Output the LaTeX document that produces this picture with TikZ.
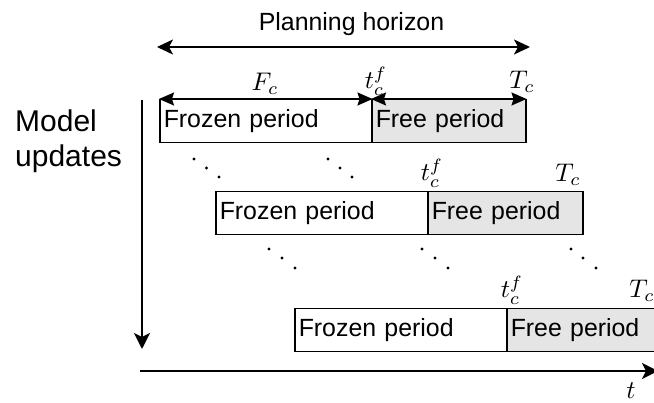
\documentclass[tikz,border=0pt]{standalone}
\usepackage{graphicx}
\usepackage{fontspec}
\setmainfont{Liberation Sans}
\usetikzlibrary{arrows.meta}

\newcommand{\txtsize}{\fontsize{24.88}{29}\selectfont}
\newcommand{\bigsize}{\fontsize{30}{35}\selectfont}
\newcommand{\mlbl}[1]{\scalebox{2.55}{\normalsize$#1$}}

\begin{document}
\begin{tikzpicture}[x=1pt,y=-1pt,
  every node/.style={font=\txtsize},
  period/.style={draw, line width=1.5pt, anchor=north west,
    minimum height=43pt, inner xsep=4pt, inner ysep=0pt,
    align=left, text width=#1-8pt},
  frozen/.style={period=#1, fill=white},
  free/.style={period=#1, fill=gray!20},
  span/.style={line width=1.5pt, {Stealth[length=15pt,width=13pt,inset=2pt]}-{Stealth[length=15pt,width=13pt,inset=2pt]}},
  horizon/.style={line width=1.7pt, {Stealth[length=16pt,width=15pt,inset=4pt]}-{Stealth[length=16pt,width=15pt,inset=4pt]}},
  axis/.style={line width=1.9pt, -{Stealth[length=16pt,width=16pt,inset=4pt]}},
  pt/.style={anchor=base, inner sep=0pt},
  mathlbl/.style={anchor=base, inner sep=0pt},
  dotmark/.style={fill=black}
]
\useasboundingbox (0,0) rectangle (654,403);

% planning horizon
\node[pt] (ph) at (351.5,31) {Planning horizon};
\coordinate (phl) at (157,47);
\coordinate (phr) at (530,47);
\draw[horizon] (phl) -- (phr);

% model update axis
\node[anchor=base west, inner sep=0pt, font=\bigsize] (m1) at (15,132) {Model};
\node[anchor=base west, inner sep=0pt, font=\bigsize] (m2) at (15,167) {updates};
\coordinate (vt) at (142,100);
\coordinate (vb) at (142,349);
\draw[axis] (vt) -- (vb);

% time axis
\coordinate (hl) at (140,371);
\coordinate (hr) at (658,371);
\draw[axis] (hl) -- (hr);
\node[mathlbl] (t) at (631,399) {\mlbl{t}};

% first update
\node[frozen=212pt] (fz1) at (159,99) {Frozen period};
\node[free=154pt] (fr1) at (371,99) {Free period};
\draw[span] (fz1.north west) -- (fz1.north east);
\draw[span] (fr1.north west) -- (fr1.north east);
\node[mathlbl] (F1) at (265,91) {\mlbl{F_c}};
\node[mathlbl] (tf1) at (376,89) {\mlbl{t_c^f}};
\node[mathlbl] (T1) at (522,89) {\mlbl{T_c}};

% second update
\node[frozen=212pt] (fz2) at (215,191) {Frozen period};
\node[free=155pt] (fr2) at (427,191) {Free period};
\node[mathlbl] (tf2) at (432,181) {\mlbl{t_c^f}};
\node[mathlbl] (T2) at (568,182) {\mlbl{T_c}};

% third update
\node[frozen=212pt] (fz3) at (294,308) {Frozen period};
\node[free=154pt] (fr3) at (506,308) {Free period};
\node[mathlbl] (tf3) at (512,298) {\mlbl{t_c^f}};
\node[mathlbl] (T3) at (642,298) {\mlbl{T_c}};

% diagonal dots between updates
\foreach \x/\y in {194/159, 206.5/168, 219/177,
                   328/159, 340/168, 352/177,
                   269/249, 282/258, 295/268,
                   422/249, 435/258, 448/268,
                   571/249, 583/258, 596/268}
  \fill[dotmark] (\x,\y) circle (1.6pt);
\end{tikzpicture}
\end{document}
